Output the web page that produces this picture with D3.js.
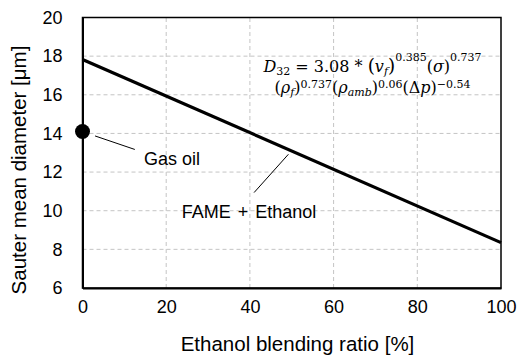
<!DOCTYPE html>
<html><head><meta charset="utf-8">
<script src="https://cdn.jsdelivr.net/npm/d3@7"></script>
<style>body{margin:0;background:#fff}svg{display:block}</style>
</head><body>
<svg id="c" width="518" height="356"></svg>
<script>
const xTicks=[0,20,40,60,80,100];
const yTicks=[6,8,10,12,14,16,18,20];
const blendRatio=[0,100];
const fameEthanolD32=[17.83,8.35];
const gasOilRatio=[0];
const gasOilD32=[14.1];
const xTitle="Ethanol blending ratio [%]";
const yTitle="Sauter mean diameter [μm]";

const W=518,H=356,m={l:82.5,r:17,t:17.5,b:68};
const svg=d3.select("#c");
const x=d3.scaleLinear().domain([0,100]).range([m.l,W-m.r]);
const y=d3.scaleLinear().domain([6,20]).range([H-m.b,m.t]);
const sans="'Liberation Sans',Arial,sans-serif";
const serif="'DejaVu Serif',serif";

// grid
const g=svg.append("g");
g.selectAll(".gx").data(xTicks.slice(1,-1)).join("line")
 .attr("x1",d=>x(d)).attr("x2",d=>x(d)).attr("y1",y(6)).attr("y2",y(20))
 .attr("stroke","#c4c4c4").attr("stroke-width",1).attr("stroke-dasharray","4,3");
g.selectAll(".gy").data(yTicks.slice(1,-1)).join("line")
 .attr("y1",d=>y(d)).attr("y2",d=>y(d)).attr("x1",x(0)).attr("x2",x(100))
 .attr("stroke","#c4c4c4").attr("stroke-width",1).attr("stroke-dasharray","4,3");

// frame
svg.append("rect").attr("x",x(0)).attr("y",y(20)).attr("width",x(100)-x(0)).attr("height",y(6)-y(20))
 .attr("fill","none").attr("stroke","#000").attr("stroke-width",1.5);

// axes
const xa=svg.append("g").attr("transform",`translate(0,${y(6)})`)
 .call(d3.axisBottom(x).tickValues(xTicks).tickSize(0).tickPadding(12));
const ya=svg.append("g").attr("transform",`translate(${x(0)},0)`)
 .call(d3.axisLeft(y).tickValues(yTicks).tickSize(0).tickPadding(20));
[xa,ya].forEach(a=>{a.select(".domain").attr("stroke","#000").attr("stroke-width",2);
 a.selectAll("text").attr("font-family",sans).attr("font-size",18).attr("fill","#000");});

// line
const pts=blendRatio.map((v,i)=>[v,fameEthanolD32[i]]);
svg.append("path").datum(pts).attr("d",d3.line().x(d=>x(d[0])).y(d=>y(d[1])))
 .attr("fill","none").attr("stroke","#000").attr("stroke-width",3.2);

// gas oil point
svg.selectAll(".pt").data(gasOilRatio).join("circle")
 .attr("cx",d=>x(d)).attr("cy",(d,i)=>y(gasOilD32[i])).attr("r",7.5).attr("fill","#000");

// annotations
function lead(x1,y1,x2,y2){svg.append("line").attr("x1",x(x1)).attr("y1",y(y1)).attr("x2",x(x2)).attr("y2",y(y2)).attr("stroke","#000").attr("stroke-width",1);}
lead(3.0,13.87,12.5,13.17);
lead(49.2,12.92,41.0,10.94);
svg.append("text").attr("x",x(14.7)).attr("y",y(12.35)).attr("font-family",sans).attr("font-size",18).text("Gas oil");
svg.append("text").attr("x",x(23.7)).attr("y",y(9.64)).attr("font-family",sans).attr("font-size",18).attr("word-spacing",2).text("FAME + Ethanol");

// titles
svg.append("text").attr("x",297.5).attr("y",350.5).attr("text-anchor","middle")
 .attr("font-family",sans).attr("font-size",20.5).text(xTitle);
svg.append("text").attr("transform",`translate(26,170) rotate(-90)`).attr("text-anchor","middle")
 .attr("font-family",sans).attr("font-size",20.5).text(yTitle);

// formula
function formula(cx,by,parts,supOff,subOff,fs,ss){
 const t=svg.append("text").attr("x",cx).attr("y",by).attr("text-anchor","middle")
  .attr("font-family",serif).attr("font-size",fs);
 let cur=0;
 parts.forEach(p=>{
  const off=p.s==="sub"?subOff:p.s==="sup"?supOff:0;
  t.append("tspan").attr("dy",off-cur).attr("font-style",p.i?"italic":"normal")
   .attr("font-size",p.s?ss:(p.big?fs*1.15:fs)).text(p.t);
  cur=off;
 });
 return t;
}
formula(372.5,72,[{t:"D",i:1},{t:"32",s:"sub"},{t:" = 3.08 * "},{t:"(",big:1},{t:"v",i:1},{t:"f",i:1,s:"sub"},{t:")",big:1},{t:"0.385",s:"sup"},{t:"("},{t:"σ",i:1},{t:")"},{t:"0.737",s:"sup"}],-11,2.5,16,11);
formula(372.5,93,[{t:"("},{t:"ρ",i:1},{t:"f",i:1,s:"sub"},{t:")"},{t:"0.737",s:"sup"},{t:"("},{t:"ρ",i:1},{t:"amb",i:1,s:"sub"},{t:")"},{t:"0.06",s:"sup"},{t:"(Δ"},{t:"p",i:1},{t:")"},{t:"−0.54",s:"sup"}],-5,3,16,11);
</script>
</body></html>
